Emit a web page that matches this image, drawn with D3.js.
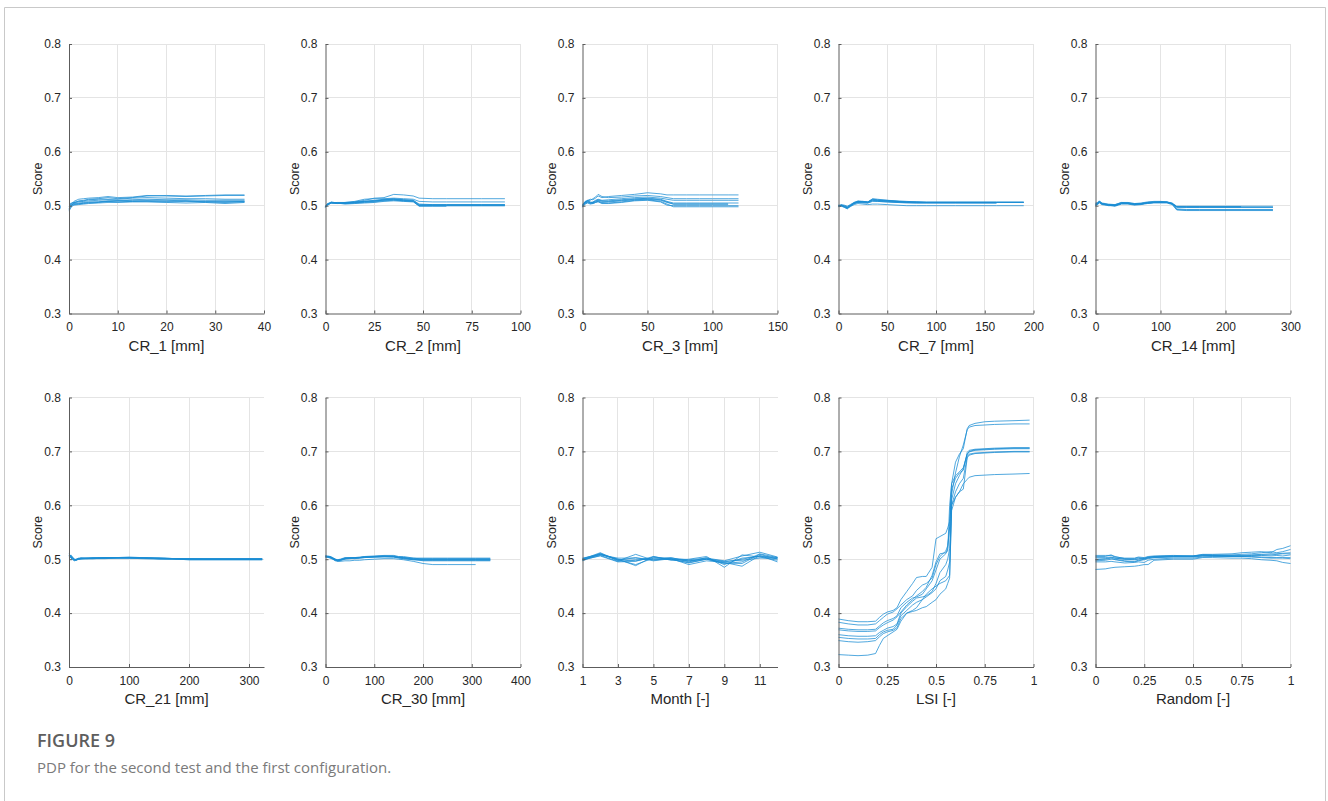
<!DOCTYPE html>
<html>
<head>
<meta charset="utf-8">
<script src="https://cdn.jsdelivr.net/npm/d3@7"></script>
<style>
  html, body { margin: 0; padding: 0; background: #fff; }
  svg { display: block; }
</style>
</head>
<body>
<svg id="chart" width="1328" height="801"></svg>
<script>
// ---------------- DATA ----------------
const yTicks = [0.3, 0.4, 0.5, 0.6, 0.7, 0.8];

const cr1Label = "CR_1 [mm]";
const cr1Ticks = [0, 10, 20, 30, 40];
const cr1X = [0, 0.5, 1, 2, 3, 4, 6, 8, 10, 13, 16, 20, 24, 28, 32, 36];
const cr1Y = [
  [0.493,0.500,0.505,0.509,0.510,0.512,0.513,0.515,0.513,0.515,0.518,0.519,0.518,0.519,0.520,0.520],
  [0.498,0.503,0.508,0.512,0.513,0.514,0.515,0.517,0.515,0.516,0.519,0.518,0.517,0.518,0.519,0.519],
  [0.500,0.504,0.506,0.508,0.509,0.511,0.512,0.512,0.512,0.514,0.515,0.514,0.513,0.513,0.512,0.512],
  [0.503,0.505,0.506,0.507,0.508,0.509,0.510,0.511,0.510,0.511,0.512,0.511,0.511,0.510,0.510,0.510],
  [0.495,0.500,0.502,0.503,0.505,0.506,0.507,0.508,0.509,0.510,0.510,0.510,0.509,0.508,0.508,0.508],
  [0.497,0.501,0.503,0.504,0.504,0.505,0.506,0.508,0.507,0.508,0.508,0.507,0.508,0.507,0.506,0.507],
  [0.490,0.498,0.501,0.502,0.503,0.504,0.505,0.506,0.506,0.507,0.507,0.506,0.505,0.506,0.504,0.506],
  [0.500,0.502,0.504,0.505,0.506,0.507,0.507,0.509,0.509,0.508,0.509,0.508,0.509,0.507,0.507,0.508]
];

const cr2Label = "CR_2 [mm]";
const cr2Ticks = [0, 25, 50, 75, 100];
const cr2X = [0, 1, 3, 6, 10, 15, 20, 25, 30, 35, 40, 45, 48, 55, 62, 70, 80, 92];
const cr2Y = [
  [0.497,0.502,0.506,0.505,0.505,0.507,0.510,0.514,0.515,0.521,0.520,0.518,0.514,0.513,0.513,0.513,0.513,0.513],
  [0.498,0.503,0.507,0.505,0.506,0.508,0.512,0.513,0.513,0.514,0.513,0.512,0.508,0.507,0.507,0.507,0.507,0.507],
  [0.499,0.503,0.506,0.505,0.504,0.506,0.508,0.510,0.512,0.513,0.511,0.510,0.503,0.502,0.502,0.502,0.502,0.502],
  [0.497,0.502,0.505,0.504,0.505,0.505,0.507,0.508,0.511,0.512,0.510,0.509,0.501,0.501,0.501,0.501,0.501,0.501],
  [0.498,0.503,0.505,0.506,0.506,0.507,0.508,0.509,0.510,0.511,0.509,0.508,0.500,0.500,0.500,0.500,0.500,0.500],
  [0.499,0.504,0.506,0.505,0.504,0.505,0.506,0.507,0.509,0.510,0.509,0.508,0.499,0.499,0.499,null,null,null],
  [0.497,0.501,0.505,0.505,0.503,0.504,0.505,0.506,0.508,0.509,0.508,0.507,0.500,0.500,0.500,0.500,0.500,0.500],
  [0.498,0.502,0.505,0.504,0.505,0.506,0.508,0.509,0.511,0.512,0.511,0.510,0.502,0.502,0.502,0.502,0.502,0.502]
];

const cr3Label = "CR_3 [mm]";
const cr3Ticks = [0, 50, 100, 150];
const cr3X = [0, 2, 4, 6, 8, 10, 12, 15, 20, 30, 40, 50, 60, 65, 70, 80, 90, 100, 112, 120];
const cr3Y = [
  [0.500,0.508,0.510,0.512,0.511,0.514,0.518,0.515,0.517,0.519,0.521,0.524,0.522,0.520,0.520,0.520,0.520,0.520,0.520,0.520],
  [0.503,0.507,0.509,0.510,0.513,0.516,0.521,0.517,0.515,0.516,0.518,0.519,0.517,0.515,0.513,0.513,0.513,0.513,0.513,0.513],
  [0.498,0.506,0.508,0.505,0.507,0.510,0.512,0.510,0.511,0.513,0.515,0.516,0.514,0.512,0.510,0.510,0.510,0.510,0.510,0.510],
  [0.502,0.505,0.510,0.507,0.506,0.508,0.510,0.508,0.508,0.510,0.512,0.514,0.512,0.508,0.505,0.505,0.505,0.505,0.505,0.505],
  [0.500,0.504,0.507,0.505,0.504,0.506,0.509,0.506,0.507,0.509,0.511,0.512,0.510,0.506,0.503,0.503,0.503,0.503,0.503,null],
  [0.499,0.505,0.506,0.504,0.506,0.507,0.508,0.505,0.505,0.507,0.510,0.511,0.508,0.503,0.498,0.498,0.498,0.498,0.498,0.498],
  [0.501,0.507,0.509,0.506,0.505,0.509,0.511,0.509,0.509,0.511,0.513,0.513,0.511,0.507,0.503,0.503,0.503,0.503,0.503,null],
  [0.497,0.503,0.505,0.503,0.504,0.506,0.507,0.504,0.504,0.506,0.509,0.510,0.507,0.501,0.500,0.500,0.500,0.500,0.500,0.500]
];

const cr7Label = "CR_7 [mm]";
const cr7Ticks = [0, 50, 100, 150, 200];
const cr7X = [0, 3, 6, 9, 12, 16, 20, 25, 30, 35, 40, 50, 60, 70, 80, 90, 100, 120, 140, 162, 190];
const cr7Y = [
  [0.500,0.501,0.499,0.496,0.500,0.505,0.508,0.507,0.506,0.511,0.510,0.509,0.508,0.507,0.507,0.506,0.506,0.506,0.506,0.506,0.506],
  [0.501,0.500,0.497,0.494,0.499,0.504,0.507,0.508,0.507,0.512,0.511,0.510,0.509,0.508,0.507,0.506,0.506,0.506,0.506,0.506,null],
  [0.499,0.501,0.500,0.498,0.501,0.506,0.509,0.508,0.507,0.513,0.512,0.510,0.508,0.507,0.506,0.506,0.506,0.506,0.506,0.506,0.506],
  [0.500,0.502,0.501,0.499,0.502,0.506,0.508,0.507,0.506,0.510,0.509,0.508,0.507,0.506,0.505,0.505,0.505,0.505,0.505,0.505,null],
  [0.498,0.499,0.497,0.495,0.498,0.502,0.504,0.503,0.502,0.503,0.503,0.502,0.501,0.500,0.500,0.500,0.500,0.500,0.500,0.500,0.500],
  [0.501,0.500,0.498,0.496,0.500,0.505,0.507,0.507,0.507,0.511,0.510,0.509,0.508,0.507,0.507,0.507,0.507,0.507,0.507,0.507,0.507],
  [0.500,0.501,0.499,0.497,0.500,0.504,0.506,0.505,0.505,0.509,0.508,0.507,0.506,0.506,0.506,0.506,0.506,0.506,0.506,0.506,0.506],
  [0.499,0.500,0.498,0.496,0.499,0.504,0.506,0.506,0.505,0.508,0.508,0.507,0.506,0.505,0.505,0.505,0.505,0.505,0.505,0.505,null]
];

const cr14Label = "CR_14 [mm]";
const cr14Ticks = [0, 100, 200, 300];
const cr14X = [0, 3, 6, 10, 15, 20, 30, 40, 50, 60, 70, 80, 90, 100, 110, 118, 125, 140, 160, 190, 224, 250, 273];
const cr14Y = [
  [0.502,0.505,0.509,0.504,0.503,0.502,0.501,0.505,0.505,0.503,0.504,0.506,0.507,0.507,0.507,0.505,0.499,0.499,0.499,0.499,0.499,0.499,0.499],
  [0.504,0.503,0.506,0.503,0.502,0.500,0.500,0.504,0.504,0.502,0.503,0.505,0.506,0.506,0.506,0.504,0.498,0.498,0.498,0.498,0.498,null,null],
  [0.500,0.502,0.505,0.502,0.501,0.501,0.502,0.506,0.506,0.504,0.505,0.507,0.508,0.508,0.507,0.503,0.493,0.492,0.492,0.492,0.492,0.492,0.492],
  [0.503,0.504,0.507,0.503,0.502,0.501,0.499,0.503,0.503,0.501,0.502,0.504,0.505,0.505,0.505,0.502,0.492,0.491,0.491,0.491,0.491,0.491,0.491],
  [0.501,0.504,0.508,0.505,0.504,0.503,0.502,0.506,0.505,0.503,0.503,0.505,0.506,0.507,0.506,0.504,0.497,0.497,0.497,0.497,0.497,0.497,0.497],
  [0.502,0.503,0.506,0.503,0.502,0.502,0.500,0.504,0.504,0.503,0.503,0.505,0.506,0.506,0.506,0.503,0.498,0.498,0.498,0.498,0.498,null,null],
  [0.505,0.506,0.508,0.504,0.503,0.501,0.500,0.505,0.504,0.502,0.504,0.506,0.507,0.506,0.506,0.504,0.498,0.497,0.497,0.497,0.497,0.497,0.497],
  [0.500,0.503,0.507,0.504,0.503,0.502,0.501,0.504,0.505,0.504,0.504,0.505,0.506,0.507,0.507,0.504,0.494,0.493,0.493,0.493,0.493,0.493,0.493]
];

const cr21Label = "CR_21 [mm]";
const cr21Ticks = [0, 100, 200, 300];
const cr21X = [0, 3, 6, 9, 12, 16, 20, 30, 40, 60, 80, 100, 120, 150, 180, 200, 230, 260, 290, 322];
const cr21Y = [
  [0.508,0.506,0.502,0.499,0.500,0.501,0.502,0.502,0.502,0.503,0.503,0.503,0.503,0.502,0.501,0.501,0.500,0.500,0.500,0.500],
  [0.505,0.507,0.503,0.500,0.499,0.500,0.501,0.502,0.502,0.502,0.503,0.503,0.502,0.502,0.501,0.501,0.501,0.501,0.501,0.501],
  [0.503,0.504,0.501,0.499,0.499,0.501,0.502,0.501,0.502,0.502,0.502,0.502,0.502,0.501,0.500,0.500,0.500,0.500,0.500,0.500],
  [0.510,0.505,0.500,0.498,0.498,0.500,0.501,0.501,0.501,0.502,0.503,0.504,0.503,0.502,0.501,0.500,0.500,0.500,0.500,0.500],
  [0.506,0.502,0.500,0.499,0.500,0.502,0.502,0.502,0.503,0.503,0.503,0.503,0.502,0.501,0.500,0.499,0.499,0.499,0.499,0.499],
  [0.504,0.508,0.504,0.500,0.499,0.500,0.500,0.501,0.501,0.502,0.502,0.502,0.502,0.501,0.501,0.500,0.500,0.500,0.500,0.500],
  [0.507,0.503,0.499,0.497,0.498,0.500,0.501,0.501,0.501,0.501,0.502,0.502,0.501,0.500,0.500,0.499,0.499,0.499,0.499,0.499],
  [0.505,0.505,0.502,0.499,0.499,0.501,0.502,0.502,0.502,0.503,0.503,0.503,0.503,0.502,0.501,0.501,0.501,0.501,0.501,0.501]
];

const cr30Label = "CR_30 [mm]";
const cr30Ticks = [0, 100, 200, 300, 400];
const cr30X = [0, 5, 10, 15, 20, 25, 30, 40, 50, 60, 70, 80, 100, 120, 140, 150, 160, 180, 200, 220, 250, 280, 308, 338];
const cr30Y = [
  [0.505,0.504,0.505,0.503,0.500,0.499,0.500,0.503,0.503,0.503,0.504,0.505,0.506,0.507,0.507,0.505,0.505,0.502,0.500,0.500,0.500,0.500,0.500,0.500],
  [0.506,0.505,0.503,0.502,0.499,0.497,0.498,0.502,0.502,0.502,0.503,0.504,0.505,0.506,0.506,0.504,0.503,0.500,0.497,0.497,0.497,0.497,0.497,0.497],
  [0.503,0.504,0.502,0.500,0.497,0.496,0.496,0.497,0.497,0.498,0.498,0.499,0.500,0.501,0.501,0.500,0.499,0.496,0.492,0.490,0.490,0.490,0.490,null],
  [0.504,0.505,0.504,0.501,0.499,0.498,0.499,0.501,0.502,0.502,0.503,0.504,0.504,0.505,0.504,0.503,0.503,0.502,0.502,0.502,0.502,0.502,0.502,0.502],
  [0.507,0.505,0.504,0.502,0.500,0.499,0.499,0.502,0.503,0.503,0.503,0.504,0.505,0.505,0.505,0.503,0.501,0.499,0.498,0.498,0.498,0.498,0.498,0.498],
  [0.505,0.503,0.503,0.501,0.498,0.497,0.497,0.500,0.501,0.501,0.502,0.503,0.504,0.504,0.504,0.502,0.501,0.499,0.499,0.499,0.499,0.499,0.499,0.499],
  [0.504,0.506,0.505,0.502,0.500,0.498,0.499,0.501,0.502,0.503,0.503,0.504,0.505,0.506,0.505,0.504,0.503,0.501,0.501,0.501,0.501,0.501,0.501,0.501],
  [0.506,0.504,0.502,0.500,0.498,0.497,0.498,0.501,0.501,0.502,0.502,0.503,0.504,0.505,0.505,0.503,0.502,0.500,0.499,0.499,0.499,0.499,0.499,0.499]
];

const monthLabel = "Month [-]";
const monthTicks = [1, 3, 5, 7, 9, 11];
const monthX = [1, 2, 3, 4, 5, 6, 7, 8, 9, 10, 11, 12];
const monthY = [
  [0.500,0.508,0.502,0.502,0.500,0.501,0.497,0.500,0.495,0.500,0.506,0.503],
  [0.497,0.511,0.497,0.509,0.498,0.502,0.499,0.502,0.497,0.506,0.513,0.504],
  [0.502,0.509,0.499,0.490,0.502,0.503,0.495,0.503,0.490,0.502,0.505,0.501],
  [0.499,0.506,0.495,0.496,0.505,0.499,0.494,0.500,0.493,0.492,0.509,0.500],
  [0.501,0.510,0.500,0.488,0.505,0.498,0.500,0.505,0.485,0.508,0.504,0.498],
  [0.498,0.507,0.496,0.499,0.500,0.500,0.493,0.500,0.492,0.495,0.510,0.503],
  [0.500,0.512,0.498,0.503,0.497,0.501,0.490,0.497,0.494,0.487,0.507,0.495],
  [0.499,0.509,0.500,0.497,0.503,0.500,0.497,0.501,0.496,0.498,0.502,0.502]
];

const lsiLabel = "LSI [-]";
const lsiTicks = [0, 0.25, 0.5, 0.75, 1];
const lsiX = [0,0.05,0.1,0.15,0.19,0.21,0.23,0.25,0.28,0.30,0.32,0.35,0.38,0.40,0.43,0.45,0.48,0.50,0.52,0.55,0.56,0.57,0.58,0.60,0.62,0.64,0.66,0.67,0.70,0.75,0.80,0.90,0.98];
const lsiY = [
  [0.389,0.386,0.384,0.384,0.385,0.392,0.398,0.402,0.405,0.410,0.425,0.440,0.455,0.466,0.468,0.468,0.485,0.538,0.542,0.548,0.558,0.570,0.640,0.680,0.695,0.705,0.742,0.748,0.752,0.755,0.756,0.757,0.758],
  [0.383,0.380,0.378,0.378,0.380,0.386,0.392,0.398,0.402,0.408,0.415,0.425,0.432,0.442,0.452,0.455,0.465,0.490,0.505,0.515,0.525,0.560,0.620,0.660,0.690,0.712,0.740,0.745,0.748,0.749,0.750,0.751,0.751],
  [0.372,0.370,0.369,0.369,0.370,0.376,0.382,0.386,0.390,0.395,0.410,0.420,0.428,0.430,0.435,0.445,0.460,0.480,0.500,0.510,0.520,0.560,0.630,0.650,0.660,0.665,0.698,0.702,0.704,0.705,0.706,0.707,0.707],
  [0.369,0.367,0.366,0.366,0.367,0.373,0.378,0.382,0.387,0.393,0.402,0.415,0.425,0.432,0.440,0.448,0.470,0.495,0.510,0.512,0.515,0.600,0.640,0.655,0.662,0.670,0.695,0.700,0.703,0.704,0.705,0.706,0.706],
  [0.360,0.358,0.357,0.357,0.358,0.364,0.368,0.372,0.375,0.380,0.400,0.412,0.422,0.428,0.430,0.432,0.440,0.455,0.475,0.490,0.500,0.520,0.610,0.640,0.655,0.668,0.694,0.699,0.702,0.703,0.704,0.705,0.705],
  [0.355,0.353,0.352,0.352,0.353,0.360,0.365,0.368,0.370,0.378,0.395,0.405,0.415,0.420,0.425,0.430,0.438,0.445,0.460,0.468,0.480,0.495,0.600,0.625,0.640,0.650,0.690,0.695,0.697,0.698,0.699,0.700,0.700],
  [0.349,0.347,0.346,0.347,0.349,0.356,0.362,0.365,0.368,0.373,0.390,0.400,0.405,0.410,0.425,0.435,0.445,0.450,0.455,0.460,0.465,0.470,0.590,0.615,0.625,0.630,0.688,0.693,0.696,0.697,0.698,0.699,0.699],
  [0.323,0.322,0.321,0.322,0.325,0.340,0.353,0.358,0.365,0.370,0.385,0.400,0.403,0.405,0.410,0.412,0.420,0.425,0.435,0.445,0.455,0.465,0.600,0.615,0.625,0.640,0.648,0.652,0.655,0.656,0.657,0.658,0.659]
];

const randLabel = "Random [-]";
const randTicks = [0, 0.25, 0.5, 0.75, 1];
const randX = [0,0.05,0.08,0.1,0.15,0.2,0.22,0.25,0.27,0.3,0.4,0.5,0.55,0.6,0.7,0.75,0.8,0.85,0.9,0.93,0.96,1.0];
const randY = [
  [0.507,0.507,0.507,0.504,0.502,0.502,0.504,0.503,0.505,0.506,0.507,0.506,0.509,0.509,0.510,0.512,0.513,0.514,0.512,0.518,0.520,0.525],
  [0.505,0.505,0.508,0.505,0.501,0.500,0.501,0.502,0.504,0.505,0.506,0.506,0.508,0.508,0.508,0.509,0.510,0.512,0.514,0.512,0.514,0.518],
  [0.500,0.501,0.503,0.502,0.500,0.501,0.503,0.501,0.503,0.505,0.506,0.505,0.507,0.507,0.507,0.507,0.508,0.509,0.510,0.510,0.511,0.512],
  [0.497,0.498,0.500,0.500,0.497,0.496,0.498,0.500,0.502,0.503,0.505,0.506,0.508,0.507,0.506,0.505,0.506,0.507,0.506,0.507,0.506,0.508],
  [0.495,0.495,0.496,0.495,0.493,0.494,0.495,0.494,0.498,0.500,0.502,0.502,0.504,0.505,0.505,0.506,0.505,0.504,0.503,0.503,0.503,0.503],
  [0.481,0.482,0.484,0.485,0.486,0.487,0.488,0.490,0.490,0.498,0.500,0.500,0.503,0.503,0.502,0.502,0.501,0.499,0.498,0.497,0.494,0.492],
  [0.503,0.503,0.504,0.502,0.500,0.499,0.500,0.501,0.503,0.504,0.505,0.505,0.506,0.506,0.506,0.506,0.507,0.508,0.508,0.509,0.510,0.510],
  [0.499,0.500,0.502,0.499,0.496,0.495,0.497,0.499,0.501,0.503,0.504,0.504,0.506,0.506,0.505,0.505,0.504,0.503,0.502,0.502,0.502,0.501]
];

const figureTitle = "FIGURE 9";
const figureCaption = "PDP for the second test and the first configuration.";

// panel table built from the arrays above
const panels = [
  { label: cr1Label,   domain: [0, 40],  ticks: cr1Ticks,   x: cr1X,   ys: cr1Y },
  { label: cr2Label,   domain: [0, 100], ticks: cr2Ticks,   x: cr2X,   ys: cr2Y },
  { label: cr3Label,   domain: [0, 150], ticks: cr3Ticks,   x: cr3X,   ys: cr3Y },
  { label: cr7Label,   domain: [0, 200], ticks: cr7Ticks,   x: cr7X,   ys: cr7Y },
  { label: cr14Label,  domain: [0, 300], ticks: cr14Ticks,  x: cr14X,  ys: cr14Y },
  { label: cr21Label,  domain: [0, 325], ticks: cr21Ticks,  x: cr21X,  ys: cr21Y },
  { label: cr30Label,  domain: [0, 400], ticks: cr30Ticks,  x: cr30X,  ys: cr30Y },
  { label: monthLabel, domain: [1, 12],  ticks: monthTicks, x: monthX, ys: monthY },
  { label: lsiLabel,   domain: [0, 1],   ticks: lsiTicks,   x: lsiX,   ys: lsiY },
  { label: randLabel,  domain: [0, 1],   ticks: randTicks,  x: randX,  ys: randY }
];

// ---------------- LAYOUT ----------------
const svg = d3.select("#chart");
const colLeft = [69, 325.5, 582.5, 838.5, 1095.5];
const rowTop = [44, 397.5];
const pw = 195, ph = 269.5;
const lineColor = "#1a8cd4";
const fontAxis = "'Liberation Sans', Arial, Helvetica, sans-serif";

// frame
svg.append("path")
  .attr("d", "M4.5,801 L4.5,7.5 L1325.5,7.5 L1325.5,801")
  .attr("fill", "none").attr("stroke", "#c9c9c9").attr("stroke-width", 1);

panels.forEach((p, i) => {
  const r = Math.floor(i / 5), c = i % 5;
  const g = svg.append("g").attr("transform", `translate(${colLeft[c]},${rowTop[r]})`);
  const x = d3.scaleLinear().domain(p.domain).range([0, pw]);
  const y = d3.scaleLinear().domain([0.3, 0.8]).range([ph, 0]);

  // grid
  g.append("g").selectAll("line").data(p.ticks.filter(t => x(t) > 0.5)).join("line")
    .attr("x1", d => x(d)).attr("x2", d => x(d)).attr("y1", 0).attr("y2", ph)
    .attr("stroke", "#e4e4e4").attr("stroke-width", 1).attr("shape-rendering", "crispEdges");
  g.append("g").selectAll("line").data(yTicks.filter(t => t > 0.3)).join("line")
    .attr("x1", 0).attr("x2", pw).attr("y1", d => y(d)).attr("y2", d => y(d))
    .attr("stroke", "#e4e4e4").attr("stroke-width", 1).attr("shape-rendering", "crispEdges");

  // lines
  const gen = d3.line()
    .defined(d => d[1] !== null)
    .x(d => x(d[0])).y(d => y(d[1]));
  p.ys.forEach(series => {
    const pts = p.x.map((xv, k) => [xv, series[k]]);
    g.append("path").attr("d", gen(pts))
      .attr("fill", "none").attr("stroke", lineColor)
      .attr("stroke-width", 0.85).attr("stroke-opacity", 0.9)
      .attr("stroke-linejoin", "round");
  });

  // axes
  const xAxis = d3.axisBottom(x).tickValues(p.ticks).tickSizeInner(-3).tickSizeOuter(0)
    .tickFormat(d3.format("~g")).tickPadding(9);
  const yAxis = d3.axisLeft(y).tickValues(yTicks).tickSizeInner(-3).tickSizeOuter(0)
    .tickFormat(d3.format(".1f")).tickPadding(8);
  const gx = g.append("g").attr("transform", `translate(0,${ph})`).call(xAxis);
  const gy = g.append("g").call(yAxis);
  [gx, gy].forEach(ax => {
    ax.select(".domain").attr("stroke", "#5c5c5c").attr("stroke-width", 1);
    ax.selectAll(".tick line").attr("stroke", "#5c5c5c");
    ax.selectAll(".tick text").attr("fill", "#262626")
      .style("font-family", fontAxis).style("font-size", "12px");
  });

  // labels
  g.append("text").attr("x", pw / 2).attr("y", ph + 37)
    .attr("text-anchor", "middle").attr("fill", "#262626")
    .style("font-family", fontAxis).style("font-size", "15px").text(p.label);
  g.append("text")
    .attr("transform", `translate(-27,${ph / 2}) rotate(-90)`)
    .attr("text-anchor", "middle").attr("fill", "#262626")
    .style("font-family", fontAxis).style("font-size", "12.5px").text("Score");
});

// caption
svg.append("text").attr("x", 37).attr("y", 747)
  .attr("fill", "#5e5e5e").style("font-family", "'Open Sans', sans-serif")
  .style("font-size", "18px").style("font-weight", 600).text(figureTitle);
svg.append("text").attr("x", 37).attr("y", 773)
  .attr("fill", "#7a7a7a").style("font-family", "'Open Sans', sans-serif")
  .style("font-size", "15px").text(figureCaption);
</script>
</body>
</html>
